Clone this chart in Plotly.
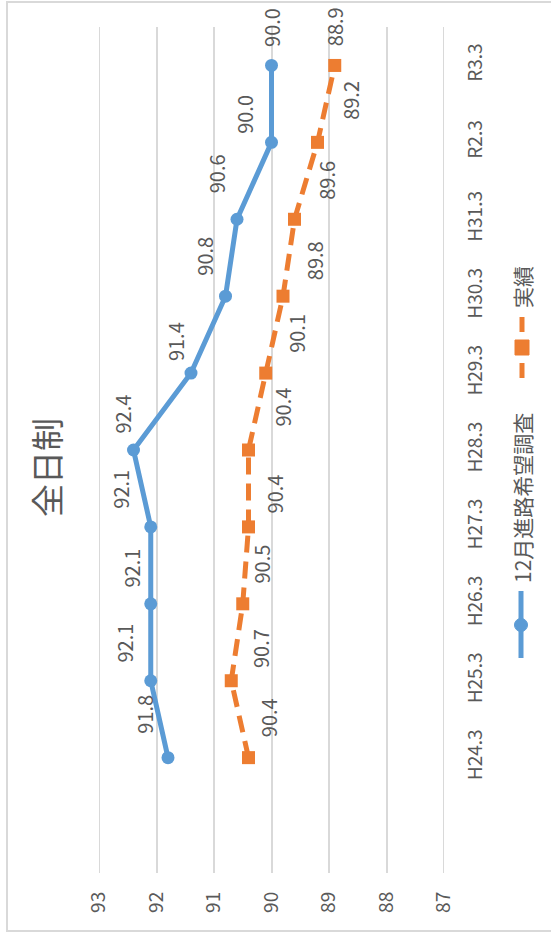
import plotly.graph_objects as go

# ---- data ----
categories = ["H24.3", "H25.3", "H26.3", "H27.3", "H28.3", "H29.3", "H30.3", "H31.3", "R2.3", "R3.3"]
series_plan_name = "12月進路希望調査"
series_plan = [91.8, 92.1, 92.1, 92.1, 92.4, 91.4, 90.8, 90.6, 90.0, 90.0]
series_actual_name = "実績"
series_actual = [90.4, 90.7, 90.5, 90.4, 90.4, 90.1, 89.8, 89.6, 89.2, 88.9]
value_ticks = [93, 92, 91, 90, 89, 88, 87]
title_text = "全日制"

# ---- style ----
W, H = 551, 935
ML, MR, MT, MB = 99, 107, 27, 62
BLUE = "#5B9BD5"
ORANGE = "#ED7D31"
GRAY = "#595959"
GRID = "#D9D9D9"
FONT = "Noto Sans CJK JP"

# label offsets (pixels, image x / image y) for data labels
plan_off = [(-23, -43), (-26, -38), (-19, -36), (-30, -38), (-12, -36),
            (-16, -31), (-21, -40), (-21, -45), (-27, -28), (0, -38)]
act_off = [(20, -40), (29, -32), (19, -40), (26, -33), (33, -43),
           (30, -40), (31, -35), (32, -39), (33, -42), (0, -39)]

pos = list(range(1, len(categories) + 1))  # slot 0 is an empty leading category

pw, ph = W - ML - MR, H - MT - MB


def px(x):
    return (x - ML) / pw


def py(y):
    return (H - MB - y) / ph


fig = go.Figure()
fig.add_trace(go.Scatter(
    x=series_plan, y=pos, mode="lines+markers", name=series_plan_name,
    line=dict(color=BLUE, width=5), marker=dict(color=BLUE, size=13, symbol="circle"),
    showlegend=False, cliponaxis=False))
fig.add_trace(go.Scatter(
    x=series_actual, y=pos, mode="lines+markers", name=series_actual_name,
    line=dict(color=ORANGE, width=5, dash="17px,9px"),
    marker=dict(color=ORANGE, size=13, symbol="square"),
    showlegend=False, cliponaxis=False))

annotations = []
for vals, offs in ((series_plan, plan_off), (series_actual, act_off)):
    for v, p, (dx, dy) in zip(vals, pos, offs):
        annotations.append(dict(
            x=v, y=p, xref="x", yref="y", text=f"{v:.1f}", showarrow=False,
            textangle=-90, xshift=dx, yshift=-dy, xanchor="center", yanchor="middle",
            font=dict(family=FONT, size=20, color=GRAY)))

# title
annotations.append(dict(
    x=px(46), y=py(467), xref="paper", yref="paper", text=title_text,
    showarrow=False, textangle=-90, xanchor="center", yanchor="middle",
    font=dict(family=FONT, size=33, color=GRAY)))

# legend (rotated, drawn manually)
annotations.append(dict(
    x=px(522), y=py(498), xref="paper", yref="paper", text=series_plan_name,
    showarrow=False, textangle=-90, xanchor="center", yanchor="middle",
    font=dict(family=FONT, size=21, color=GRAY)))
annotations.append(dict(
    x=px(522), y=py(287), xref="paper", yref="paper", text=series_actual_name,
    showarrow=False, textangle=-90, xanchor="center", yanchor="middle",
    font=dict(family=FONT, size=21, color=GRAY)))

shapes = []
# chart border
shapes.append(dict(type="rect", xref="paper", yref="paper",
                   x0=px(7), x1=px(570), y0=py(931), y1=py(2),
                   line=dict(color=GRID, width=2), fillcolor="rgba(0,0,0,0)", layer="below"))
# edge gridlines (plotly omits gridlines on the plot-area border)
for t in (value_ticks[0], value_ticks[-1]):
    shapes.append(dict(type="line", xref="x", yref="paper", x0=t, x1=t, y0=0, y1=1,
                       line=dict(color=GRID, width=2), layer="below"))
# blue legend symbol
shapes.append(dict(type="line", xref="paper", yref="paper",
                   x0=px(521), x1=px(521), y0=py(658), y1=py(591),
                   line=dict(color=BLUE, width=5)))
shapes.append(dict(type="circle", xref="paper", yref="paper",
                   x0=px(514.5), x1=px(527.5), y0=py(631.5), y1=py(618.5),
                   line=dict(color=BLUE, width=1), fillcolor=BLUE))
# orange legend symbol
shapes.append(dict(type="line", xref="paper", yref="paper",
                   x0=px(522), x1=px(522), y0=py(378), y1=py(363),
                   line=dict(color=ORANGE, width=5)))
shapes.append(dict(type="line", xref="paper", yref="paper",
                   x0=px(522), x1=px(522), y0=py(332), y1=py(317),
                   line=dict(color=ORANGE, width=5)))
shapes.append(dict(type="rect", xref="paper", yref="paper",
                   x0=px(515), x1=px(529), y0=py(355), y1=py(340),
                   line=dict(color=ORANGE, width=1), fillcolor=ORANGE))

fig.update_layout(
    width=W, height=H,
    margin=dict(l=ML, r=MR, t=MT, b=MB, pad=0),
    paper_bgcolor="white", plot_bgcolor="white",
    showlegend=False,
    annotations=annotations, shapes=shapes,
    xaxis=dict(range=[93, 87], tickvals=value_ticks, ticktext=[str(t) for t in value_ticks],
               tickangle=-90, showgrid=True, gridcolor=GRID, gridwidth=2,
               zeroline=False, showline=False, ticks="", ticklabelstandoff=14,
               tickfont=dict(family=FONT, size=19, color=GRAY)),
    yaxis=dict(range=[-0.5, len(categories) + 0.5], tickvals=pos, ticktext=categories,
               side="right", tickangle=-90, showgrid=False, zeroline=False,
               showline=False, ticks="", ticklabelstandoff=18,
               tickfont=dict(family=FONT, size=19, color=GRAY)),
)

fig.write_html("out.html", config={"displayModeBar": False},
               post_script="document.body.style.margin='0';document.body.style.overflow='hidden';")
